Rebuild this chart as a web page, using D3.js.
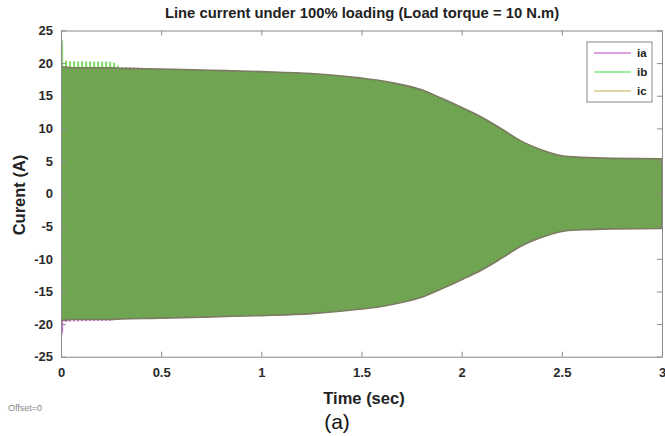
<!DOCTYPE html>
<html><head><meta charset="utf-8">
<script src="https://cdn.jsdelivr.net/npm/d3@7"></script>
<style>
html,body{margin:0;padding:0;background:#fff;}
text{font-family:"Liberation Sans",Arial,sans-serif;}
</style></head>
<body><svg id="c" width="665" height="436"></svg>
<script>
// ---- data (peak envelopes of the phase currents) ----
const time     = [0, 0.008, 0.02, 0.05, 0.25, 0.3, 0.5, 0.75, 1.0, 1.25, 1.5, 1.6, 1.7, 1.8, 1.9, 2.0, 2.1, 2.2, 2.3, 2.4, 2.5, 2.6, 2.75, 3.0];
const iaUpper  = [19.4, 19.4, 19.4, 19.3, 19.3, 19.4, 19.1, 18.9, 18.7, 18.4, 17.7, 17.3, 16.7, 15.9, 14.6, 13.2, 11.7, 9.9, 8.0, 6.7, 5.8, 5.55, 5.4, 5.35];
const iaLower  = [-22, -21.5, -19.7, -19.6, -19.5, -19.2, -19.1, -18.9, -18.7, -18.4, -17.7, -17.3, -16.7, -15.9, -14.6, -13.2, -11.7, -9.9, -8.0, -6.7, -5.8, -5.55, -5.4, -5.35];
const ibUpper  = [24, 23.5, 20.4, 20.3, 20.2, 19.4, 19.1, 18.9, 18.7, 18.4, 17.7, 17.3, 16.7, 15.9, 14.6, 13.2, 11.7, 9.9, 8.0, 6.7, 5.8, 5.55, 5.4, 5.35];
const ibLower  = [-19.4, -19.4, -19.4, -19.3, -19.3, -19.2, -19.1, -18.9, -18.7, -18.4, -17.7, -17.3, -16.7, -15.9, -14.6, -13.2, -11.7, -9.9, -8.0, -6.7, -5.8, -5.55, -5.4, -5.35];
const icUpper  = [19.4, 19.4, 19.4, 19.3, 19.3, 19.2, 19.1, 18.9, 18.7, 18.4, 17.7, 17.3, 16.7, 15.9, 14.6, 13.2, 11.7, 9.9, 8.0, 6.7, 5.8, 5.55, 5.4, 5.35];
const icLower  = [-19.4, -19.4, -19.4, -19.3, -19.3, -19.2, -19.1, -18.9, -18.7, -18.4, -17.7, -17.3, -16.7, -15.9, -14.6, -13.2, -11.7, -9.9, -8.0, -6.7, -5.8, -5.55, -5.4, -5.35];
const seriesNames = ["ia", "ib", "ic"];
const xTicks = [0, 0.5, 1, 1.5, 2, 2.5, 3];
const yTicks = [-25, -20, -15, -10, -5, 0, 5, 10, 15, 20, 25];
const titleText = "Line current under 100% loading (Load torque = 10 N.m)";

// ---- layout ----
const svg = d3.select("#c");
const L = 61, R = 662, T = 30.5, B = 356.7;
const x = d3.scaleLinear().domain([0, 3]).range([L, R]);
const y = d3.scaleLinear().domain([-25, 25]).range([B, T]);

const defs = svg.append("defs");
function stripes(id, w, bg, fg, fw) {
  const p = defs.append("pattern").attr("id", id).attr("patternUnits", "userSpaceOnUse")
    .attr("width", w).attr("height", 10).attr("x", L);
  if (bg) p.append("rect").attr("width", w).attr("height", 10).attr("fill", bg);
  p.append("rect").attr("width", fw).attr("height", 10).attr("fill", fg);
}
stripes("pa", 4, null, "#d86ad8", 2.2);
stripes("pb", 4, null, "#86dc70", 2.2);
stripes("pc", 4, "#69aa4b", "#7d9860", 1.3);

const clip = defs.append("clipPath").attr("id", "clip");
clip.append("rect").attr("x", L).attr("y", T).attr("width", R - L).attr("height", B - T);

const g = svg.append("g").attr("clip-path", "url(#clip)");
function band(up, lo) {
  return d3.area().x((d, i) => x(time[i])).y0((d, i) => y(lo[i])).y1((d, i) => y(up[i]))
    .curve(d3.curveMonotoneX)(time);
}
g.append("path").attr("d", band(iaUpper, iaLower)).attr("fill", "url(#pa)");
g.append("path").attr("d", band(ibUpper, ibLower)).attr("fill", "url(#pb)");
g.append("path").attr("d", band(icUpper, icLower)).attr("fill", "url(#pc)")
  .attr("stroke", "#7c7a62").attr("stroke-width", 1.6);

// ---- axes ----
const axCol = "#8a8a8a";
const fmt = d => String(d);
function styleAxis(sel, labels) {
  sel.select(".domain").attr("stroke", axCol);
  sel.selectAll(".tick line").attr("stroke", axCol);
  sel.selectAll(".tick text").attr("fill", "#2a2a2a").attr("font-size", 13).attr("font-weight", "bold")
    .attr("font-family", "Liberation Sans, Arial, sans-serif");
  if (!labels) sel.selectAll(".tick text").remove();
}
svg.append("g").attr("transform", `translate(0,${B})`)
  .call(d3.axisBottom(x).tickValues(xTicks).tickSize(-5).tickSizeOuter(0).tickPadding(11).tickFormat(fmt))
  .call(s => styleAxis(s, true));
svg.append("g").attr("transform", `translate(0,${T})`)
  .call(d3.axisTop(x).tickValues(xTicks).tickSize(-5).tickSizeOuter(0))
  .call(s => styleAxis(s, false));
svg.append("g").attr("transform", `translate(${L},0)`)
  .call(d3.axisLeft(y).tickValues(yTicks).tickSize(-5).tickSizeOuter(0).tickPadding(8).tickFormat(fmt))
  .call(s => styleAxis(s, true));
svg.append("g").attr("transform", `translate(${R},0)`)
  .call(d3.axisRight(y).tickValues(yTicks).tickSize(-5).tickSizeOuter(0))
  .call(s => styleAxis(s, false));

// ---- texts ----
svg.append("text").attr("x", 362).attr("y", 18).attr("text-anchor", "middle")
  .attr("font-size", 14.8).attr("font-weight", "bold").attr("fill", "#222").text(titleText);
svg.append("text").attr("x", 364).attr("y", 404).attr("text-anchor", "middle")
  .attr("font-size", 16.5).attr("font-weight", "bold").attr("fill", "#222").text("Time (sec)");
svg.append("text").attr("transform", "translate(25,195) rotate(-90)").attr("text-anchor", "middle")
  .attr("font-size", 16.5).attr("font-weight", "bold").attr("fill", "#222").text("Curent (A)");
svg.append("text").attr("x", 337).attr("y", 429).attr("text-anchor", "middle")
  .attr("font-family", "Liberation Serif, Times New Roman, serif").attr("font-size", 21)
  .attr("fill", "#111").text("(a)");
svg.append("text").attr("x", 8).attr("y", 411).attr("font-size", 9).attr("fill", "#888").text("Offset=0");

// ---- legend ----
const legColors = ["#d77fd7", "#80e880", "#dcc88a"];
const lg = svg.append("g");
lg.append("rect").attr("x", 587).attr("y", 42).attr("width", 65).attr("height", 60)
  .attr("fill", "#fff").attr("stroke", "#8a8a8a");
seriesNames.forEach((n, i) => {
  const yy = 53 + i * 19;
  lg.append("line").attr("x1", 594).attr("x2", 631).attr("y1", yy).attr("y2", yy)
    .attr("stroke", legColors[i]).attr("stroke-width", 1.5);
  lg.append("text").attr("x", 637).attr("y", yy + 4).attr("font-size", 11.5).attr("font-weight", "bold")
    .attr("fill", "#222").text(n);
});
</script></body></html>
